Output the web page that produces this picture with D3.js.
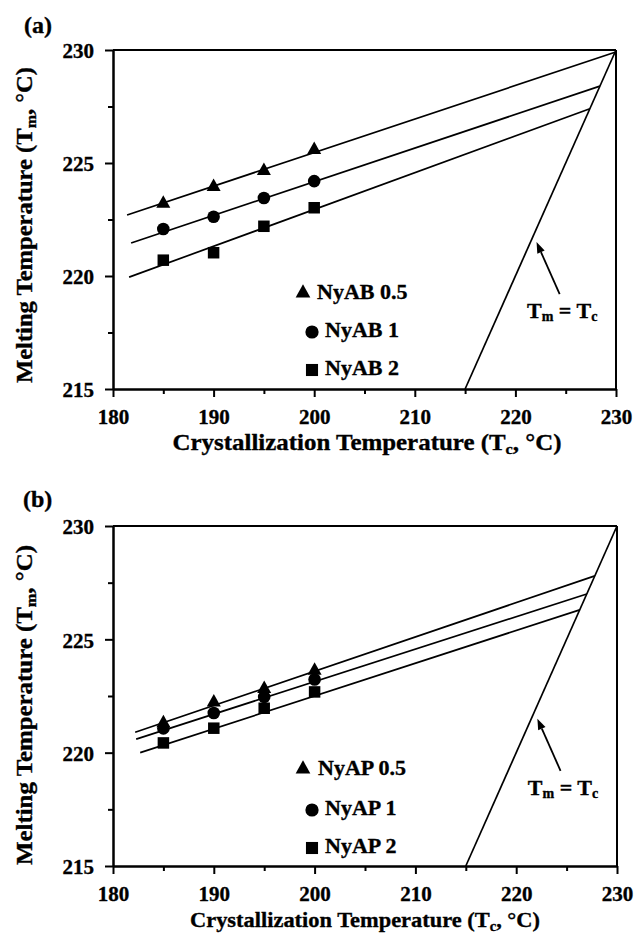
<!DOCTYPE html>
<html><head><meta charset="utf-8">
<script src="https://cdn.jsdelivr.net/npm/d3@7"></script>
<style>
body{margin:0;background:#fff}
svg{display:block}
</style>
</head><body><svg id="chart" width="636" height="934"></svg>
<script>
// ---- data ----
const crystT = [185, 190, 195, 200];
const seriesA = ["NyAB 0.5", "NyAB 1", "NyAB 2"];
const tmA05 = [223.2, 223.95, 224.65, 225.58];
const tmA1  = [222.08, 222.62, 223.45, 224.2];
const tmA2  = [220.7, 221.03, 222.2, 223.02];
const seriesB = ["NyAP 0.5", "NyAP 1", "NyAP 2"];
const tmB05 = [221.31, 222.22, 222.82, 223.62];
const tmB1  = [221.07, 221.75, 222.46, 223.23];
const tmB2  = [220.43, 221.08, 221.96, 222.68];
// linear fit lines: start point and end point (end lies on Tm = Tc)
const fitStartTcA = [181.4, 181.8, 181.6];
const fitStartTmA = [222.7, 221.46, 219.95];
const fitEndA     = [229.9, 228.4, 227.4];
const fitStartTcB = [182.2, 182.3, 182.7];
const fitStartTmB = [220.9, 220.6, 220.0];
const fitEndB     = [227.8, 227.0, 226.3];
const equalLine = [215, 230];
const xMajor = [180, 190, 200, 210, 220, 230];
const xMinor = [185, 195, 205, 215, 225];
const yMajor = [215, 220, 225, 230];
const yMinor = [217.5, 222.5, 227.5];
const shapes = ["triangle", "circle", "square"];
// annotation (arrow tip / tail and label anchor in data units)
const arrowTip = [222.1, 221.5];
const arrowTail = [224.4, 219.2];
const labelAt = [221.15, 218.15];

const FONT = "'Liberation Serif', 'Times New Roman', Times, serif";
const svg = d3.select("#chart");

function marker(g, shape, cx, cy, s) {
  if (shape === "triangle") {
    const w = 14 * s, h = 12.5 * s;
    g.append("path").attr("d", `M${cx - w/2},${cy + h/3}L${cx + w/2},${cy + h/3}L${cx},${cy - 2*h/3}Z`).attr("fill", "#000");
  } else if (shape === "circle") {
    g.append("circle").attr("cx", cx).attr("cy", cy).attr("r", 6.3 * s).attr("fill", "#000");
  } else {
    const a = 11.5 * s;
    g.append("rect").attr("x", cx - a/2).attr("y", cy - a/2).attr("width", a).attr("height", a).attr("fill", "#000");
  }
}

const T = (sel, size) => sel.style("font-family", FONT).style("font-weight", "bold")
  .style("font-size", size + "px").attr("fill", "#000").attr("stroke", "#000").attr("stroke-width", 0.35);

function drawPanel(cfg) {
  const x = d3.scaleLinear().domain([180, 230]).range(cfg.xr);
  const y = d3.scaleLinear().domain([215, 230]).range(cfg.yr);
  const g = svg.append("g");

  // frame (top & right)
  g.append("line").attr("x1", x(180)).attr("x2", x(230)).attr("y1", y(230)).attr("y2", y(230))
    .attr("stroke", "#000").attr("stroke-width", 2);
  g.append("line").attr("x1", x(230)).attr("x2", x(230)).attr("y1", y(230)).attr("y2", y(215))
    .attr("stroke", "#000").attr("stroke-width", 2);

  // axes
  const xAx = g.append("g").attr("transform", `translate(0,${y(215)})`)
    .call(d3.axisBottom(x).tickValues(xMajor).tickSize(8).tickPadding(12).tickSizeOuter(0).tickFormat(d3.format("d")));
  const xAxMin = g.append("g").attr("transform", `translate(0,${y(215)})`)
    .call(d3.axisBottom(x).tickValues(xMinor).tickSize(5).tickSizeOuter(0).tickFormat(""));
  const yAx = g.append("g").attr("transform", `translate(${x(180)},0)`)
    .call(d3.axisLeft(y).tickValues(yMajor).tickSize(8).tickPadding(11).tickSizeOuter(0).tickFormat(d3.format("d")));
  const yAxMin = g.append("g").attr("transform", `translate(${x(180)},0)`)
    .call(d3.axisLeft(y).tickValues(yMinor).tickSize(5).tickSizeOuter(0).tickFormat(""));
  [xAx, xAxMin, yAx, yAxMin].forEach(a => {
    a.attr("font-family", null).attr("font-size", null);
    a.select(".domain").attr("stroke", "#000").attr("stroke-width", 2);
    a.selectAll(".tick line").attr("stroke", "#000").attr("stroke-width", 2);
    T(a.selectAll("text"), 21);
  });
  yAx.selectAll("text").attr("dy", "0.38em");

  // Tm = Tc line
  g.append("line").attr("x1", x(equalLine[0])).attr("y1", y(equalLine[0]))
    .attr("x2", x(equalLine[1])).attr("y2", y(equalLine[1]))
    .attr("stroke", "#000").attr("stroke-width", 1.7);

  // fit lines
  for (let i = 0; i < 3; i++) {
    g.append("line").attr("x1", x(cfg.fsTc[i])).attr("y1", y(cfg.fsTm[i]))
      .attr("x2", x(cfg.fe[i])).attr("y2", y(cfg.fe[i]))
      .attr("stroke", "#000").attr("stroke-width", 1.7);
  }
  // data markers
  cfg.vals.forEach((vals, i) => {
    vals.forEach((v, j) => marker(g, shapes[i], x(crystT[j]), y(v), 1));
  });

  // legend
  cfg.legend.forEach((name, i) => {
    const L = cfg.legPos[i];
    marker(g, shapes[i], L[0], L[1], 1.05);
    T(g.append("text").attr("x", L[2]).attr("y", L[3]), 22).text(name);
  });

  // arrow annotation
  const tx = x(arrowTip[0]), ty = y(arrowTip[1]), sx = x(arrowTail[0]), sy = y(arrowTail[1]);
  const ang = Math.atan2(ty - sy, tx - sx);
  const hl = 11, hw = 4;
  const bx = tx - hl * Math.cos(ang), by = ty - hl * Math.sin(ang);
  g.append("line").attr("x1", sx).attr("y1", sy).attr("x2", bx).attr("y2", by)
    .attr("stroke", "#000").attr("stroke-width", 1.8);
  g.append("path").attr("d",
    `M${tx},${ty}L${bx + hw * Math.sin(ang)},${by - hw * Math.cos(ang)}L${bx - hw * Math.sin(ang)},${by + hw * Math.cos(ang)}Z`)
    .attr("fill", "#000");
  const lab = T(g.append("text").attr("x", x(labelAt[0])).attr("y", y(labelAt[1])), 22);
  lab.append("tspan").text("T");
  lab.append("tspan").style("font-size", "14px").attr("dy", 3).text("m");
  lab.append("tspan").attr("dy", -3).text(" = T");
  lab.append("tspan").style("font-size", "14px").attr("dy", 3).text("c");

  // panel label
  T(g.append("text").attr("x", cfg.panelPos[0]).attr("y", cfg.panelPos[1]), 24).text(cfg.panel);

  // x title
  const xt = T(g.append("text").attr("x", cfg.xTitle[0]).attr("y", cfg.xTitle[1])
    .attr("text-anchor", "middle"), cfg.xTitle[3])
    .attr("textLength", cfg.xTitle[2]).attr("lengthAdjust", "spacingAndGlyphs");
  xt.append("tspan").text("Crystallization Temperature (T");
  xt.append("tspan").style("font-size", (cfg.xTitle[3] * 0.65) + "px").attr("dy", 4).text("c");
  xt.append("tspan").attr("dy", -4).text(", °C)");

  // y title
  const yt = T(g.append("text").attr("transform", `translate(${cfg.yTitle[0]},${cfg.yTitle[1]}) rotate(-90)`)
    .attr("text-anchor", "middle"), 23)
    .attr("textLength", cfg.yTitle[2]).attr("lengthAdjust", "spacingAndGlyphs");
  yt.append("tspan").text("Melting Temperature (T");
  yt.append("tspan").style("font-size", "15px").attr("dy", 4).text("m");
  yt.append("tspan").attr("dy", -4).text(", °C)");
}

drawPanel({
  xr: [113, 616], yr: [389, 50],
  vals: [tmA05, tmA1, tmA2],
  fsTc: fitStartTcA, fsTm: fitStartTmA, fe: fitEndA,
  legend: seriesA,
  legPos: [[303, 293, 317, 299], [312, 332, 325, 337], [312, 370, 325, 375]],
  panel: "(a)", panelPos: [24, 33],
  xTitle: [367, 450, 389, 24],
  yTitle: [32, 225, 316]
});
drawPanel({
  xr: [113, 617], yr: [866, 526],
  vals: [tmB05, tmB1, tmB2],
  fsTc: fitStartTcB, fsTm: fitStartTmB, fe: fitEndB,
  legend: seriesB,
  legPos: [[303, 769, 318, 775], [312, 810, 325, 815], [312, 848, 325, 853]],
  panel: "(b)", panelPos: [23, 507],
  xTitle: [365, 927, 350, 22],
  yTitle: [32, 705, 320]
});
</script>
</body></html>
